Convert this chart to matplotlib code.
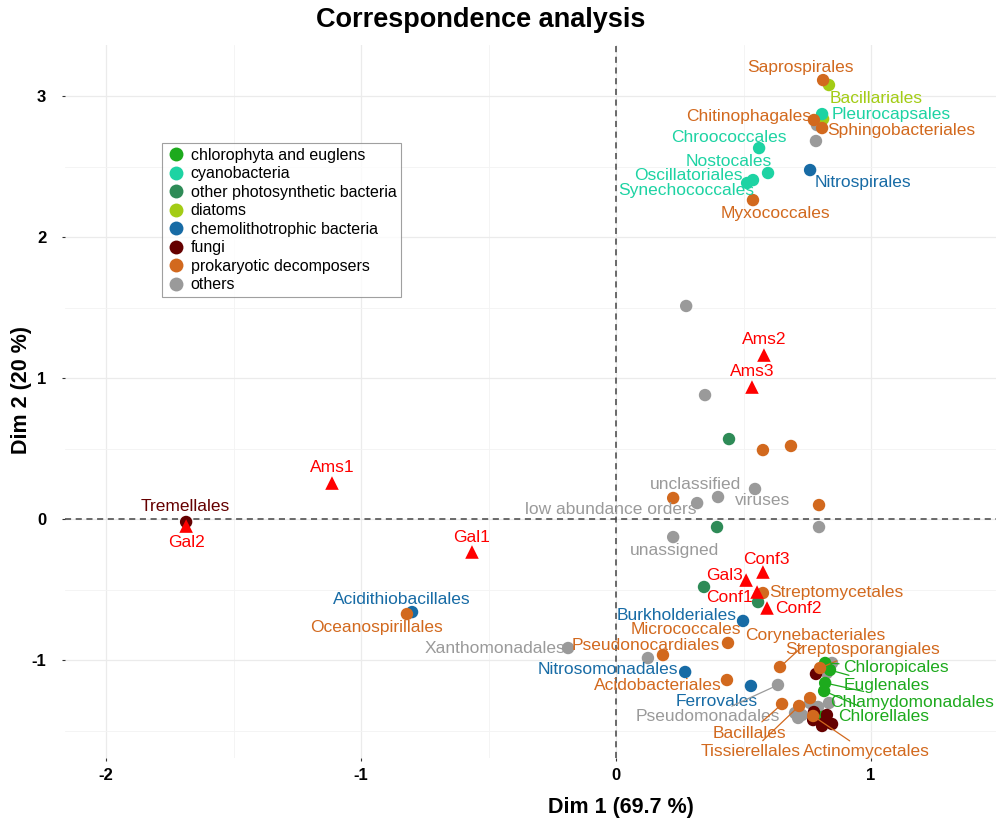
import matplotlib
matplotlib.use("Agg")
import matplotlib.pyplot as plt
from matplotlib.lines import Line2D

plt.rcParams["font.family"] = ["Liberation Sans", "DejaVu Sans"]
plt.rcParams["axes.unicode_minus"] = False

# Samples (rows) - red triangles
row_names = ["Ams1", "Ams2", "Ams3", "Gal1", "Gal2", "Gal3", "Conf1", "Conf2", "Conf3"]
row_x = [-1.114, 0.580, 0.533, -0.565, -1.686, 0.510, 0.553, 0.592, 0.576]
row_y = [0.255, 1.163, 0.936, -0.234, -0.050, -0.433, -0.518, -0.631, -0.376]

# Orders (columns), labelled ones first, then unlabelled
col_names = [
    "Saprospirales", "Bacillariales", "Pleurocapsales", "Chitinophagales",
    "Sphingobacteriales", "Chroococcales", "Nostocales", "Oscillatoriales",
    "Synechococcales", "Nitrospirales", "Myxococcales", "unclassified",
    "viruses", "low abundance orders", "unassigned", "Streptomycetales",
    "Burkholderiales", "Micrococcales", "Corynebacteriales", "Pseudonocardiales",
    "Streptosporangiales", "Chloropicales", "Nitrosomonadales", "Euglenales",
    "Acidobacteriales", "Ferrovales", "Chlamydomonadales", "Pseudomonadales",
    "Chlorellales", "Bacillales", "Tissierellales", "Actinomycetales",
    "Xanthomonadales", "Acidithiobacillales", "Oceanospirillales", "Tremellales",
    "", "", "", "", "", "", "", "", "", "", "", "", "", "", "", "", "", "",
    "", "", "", "", "", "", "", "", "", "", "",
]
col_x = [
    0.812, 0.835, 0.808, 0.776, 0.808, 0.561, 0.596, 0.537, 0.514, 0.761, 0.537,
    0.400, 0.545, 0.318, 0.224, 0.576, 0.498, 0.439, 0.643, 0.184, 0.800, 0.820,
    0.271, 0.839, 0.435, 0.529, 0.820, 0.635, 0.816, 0.651, 0.718, 0.773, -0.188,
    -0.800, -0.820, -1.686,
    0.812, 0.788, 0.784, 0.275, 0.349, 0.443, 0.576, 0.686, 0.224, 0.796, 0.396,
    0.796, 0.345, 0.557, 0.125, 0.847, 0.827, 0.784, 0.761, 0.761, 0.835, 0.792,
    0.702, 0.729, 0.714, 0.827, 0.820, 0.847, 0.808, 0.776, 0.773, 0.808,
]
col_y = [
    3.113, 3.078, 2.872, 2.830, 2.773, 2.631, 2.454, 2.404, 2.383, 2.475, 2.262,
    0.156, 0.213, 0.113, -0.128, -0.525, -0.723, -0.879, -1.050, -0.965, -1.057,
    -1.021, -1.085, -1.071, -1.142, -1.184, -1.163, -1.177, -1.220, -1.312,
    -1.326, -1.397, -0.915, -0.660, -0.674, -0.021,
    2.837, 2.794, 2.681, 1.511, 0.879, 0.567, 0.489, 0.518, 0.149, 0.099, -0.057,
    -0.057, -0.482, -0.589, -0.986, -1.021, -1.092, -1.099, -1.270, -1.305,
    -1.305, -1.333, -1.376, -1.390, -1.411, -1.390, -1.440, -1.454, -1.468,
    -1.369, -1.426, -1.404,
]
col_group = [
    "prok", "diat", "cyan", "prok", "prok", "cyan", "cyan", "cyan", "cyan",
    "chem", "prok", "oth", "oth", "oth", "oth", "prok", "chem", "prok", "prok",
    "prok", "prok", "chlo", "chem", "chlo", "prok", "chem", "chlo", "oth",
    "chlo", "prok", "prok", "prok", "oth", "chem", "prok", "fung",
    "diat", "oth", "oth", "oth", "oth", "phot", "prok", "prok", "prok", "prok",
    "phot", "oth", "phot", "phot", "oth", "oth", "oth", "fung", "prok", "oth",
    "oth", "oth", "oth", "oth", "oth", "fung", "fung", "fung", "fung", "fung",
    "fung", "chlo",
]

groups = ["chlo", "cyan", "phot", "diat", "chem", "fung", "prok", "oth"]
group_labels = ["chlorophyta and euglens", "cyanobacteria",
                "other photosynthetic bacteria", "diatoms",
                "chemolithotrophic bacteria", "fungi",
                "prokaryotic decomposers", "others"]
colors = {"chlo": "#1DAA1D", "cyan": "#1DD3A3", "phot": "#2E8B57",
          "diat": "#A3CC15", "chem": "#176BA5", "fung": "#650000",
          "prok": "#D2691E", "oth": "#9A9A9A"}
draw_order = ["oth", "diat", "chlo", "fung", "chem", "phot", "cyan", "prok"]

# label placement (text centre, data units) and whether a leader line is drawn
label_pos = {
    "Ams1": (-1.114, 0.362, False), "Ams2": (0.580, 1.270, False),
    "Ams3": (0.533, 1.043, False), "Gal1": (-0.565, -0.128, False),
    "Gal2": (-1.686, -0.170, False), "Gal3": (0.424, -0.404, False),
    "Conf1": (0.446, -0.560, False), "Conf2": (0.714, -0.638, False),
    "Conf3": (0.588, -0.284, False),
    "Saprospirales": (0.725, 3.199, False), "Bacillariales": (1.020, 2.986, False),
    "Pleurocapsales": (1.078, 2.872, False), "Chitinophagales": (0.518, 2.858, False),
    "Sphingobacteriales": (1.118, 2.759, False), "Chroococcales": (0.443, 2.709, False),
    "Nostocales": (0.443, 2.539, False), "Oscillatoriales": (0.282, 2.433, False),
    "Synechococcales": (0.275, 2.333, False), "Nitrospirales": (0.969, 2.390, False),
    "Myxococcales": (0.624, 2.170, False), "unclassified": (0.310, 0.248, False),
    "viruses": (0.576, 0.128, False), "low abundance orders": (-0.020, 0.064, False),
    "unassigned": (0.231, -0.220, False), "Streptomycetales": (0.863, -0.518, False),
    "Burkholderiales": (0.239, -0.683, False), "Micrococcales": (0.272, -0.783, False),
    "Corynebacteriales": (0.780, -0.823, True), "Pseudonocardiales": (0.118, -0.900, False),
    "Streptosporangiales": (0.965, -0.929, True), "Chloropicales": (1.098, -1.050, True),
    "Nitrosomonadales": (-0.031, -1.064, False), "Euglenales": (1.063, -1.184, True),
    "Acidobacteriales": (0.165, -1.184, False), "Ferrovales": (0.396, -1.291, False),
    "Chlamydomonadales": (1.160, -1.298, True), "Pseudomonadales": (0.361, -1.404, True),
    "Chlorellales": (1.051, -1.404, True), "Bacillales": (0.522, -1.518, True),
    "Tissierellales": (0.529, -1.652, True), "Actinomycetales": (0.980, -1.652, True),
    "Xanthomonadales": (-0.475, -0.915, False), "Acidithiobacillales": (-0.839, -0.574, False),
    "Oceanospirillales": (-0.941, -0.766, False), "Tremellales": (-1.690, 0.092, False),
}

fig = plt.figure(figsize=(9.96, 8.26), dpi=100)
ax = fig.add_axes([65 / 996, 1 - 758 / 826, 931 / 996, 713 / 826])

ax.set_xlim(-2.161, 1.49)
ax.set_ylim(-1.695, 3.362)
for s in ax.spines.values():
    s.set_visible(False)
ax.set_xticks([-2, -1, 0, 1])
ax.set_yticks([-1, 0, 1, 2, 3])
ax.set_xticks([-1.5, -0.5, 0.5], minor=True)
ax.set_yticks([-1.5, -0.5, 0.5, 1.5, 2.5], minor=True)
ax.grid(which="major", color="#EBEBEB", lw=0.9)
ax.grid(which="minor", color="#F3F3F3", lw=0.6)
ax.tick_params(which="major", length=2.5, width=0.8, color="#333333",
               labelsize=12)
ax.tick_params(axis="x", pad=5)
ax.tick_params(axis="y", pad=11)
ax.tick_params(which="minor", length=0)
for lab in ax.get_xticklabels() + ax.get_yticklabels():
    lab.set_fontweight("bold")
ax.set_axisbelow(True)

ax.axhline(0, color="#444444", ls=(0, (4, 3)), lw=1.1, zorder=1)
ax.axvline(0, color="#444444", ls=(0, (4, 3)), lw=1.1, zorder=1)

# columns
for g in draw_order:
    xs = [x for x, gg in zip(col_x, col_group) if gg == g]
    ys = [y for y, gg in zip(col_y, col_group) if gg == g]
    ax.scatter(xs, ys, s=80, color=colors[g], edgecolors="none", zorder=3)

# rows
ax.scatter(row_x, row_y, s=95, marker="^", color="#FF0000", edgecolors="none",
           zorder=4)

txt_size = 12.5

def put_label(name, px, py, color):
    lx, ly, line = label_pos[name]
    if line:
        ax.annotate(name, xy=(px, py), xytext=(lx, ly), ha="center", va="center",
                    color=color, fontsize=txt_size, zorder=5,
                    arrowprops=dict(arrowstyle="-", color=color, lw=0.9,
                                    shrinkA=1, shrinkB=4))
    else:
        ax.text(lx, ly, name, ha="center", va="center", color=color,
                fontsize=txt_size, zorder=5)

for n, x, y in zip(row_names, row_x, row_y):
    put_label(n, x, y, "#FF0000")
for n, x, y, g in zip(col_names, col_x, col_y, col_group):
    if n:
        put_label(n, x, y, colors[g])

handles = [Line2D([], [], marker="o", ls="", markersize=10, color=colors[g],
                  markeredgewidth=0) for g in groups]
leg = ax.legend(handles, group_labels, loc="upper left",
                bbox_to_anchor=((162 - 65) / 931, (758 - 143) / 713),
                fontsize=11.5, frameon=True, fancybox=False, handletextpad=0.3,
                labelspacing=0.22, borderpad=0.3, handlelength=1.2,
                borderaxespad=0)
leg.get_frame().set_edgecolor("#888888")
leg.get_frame().set_linewidth(0.8)

fig.text(481 / 996, 1 - 20 / 826, "Correspondence analysis", ha="center",
         va="center", fontsize=19.5, fontweight="bold")
fig.text(621 / 996, 1 - 808 / 826, "Dim 1 (69.7 %)", ha="center", va="center",
         fontsize=15.5, fontweight="bold")
fig.text(22 / 996, 1 - 390 / 826, "Dim 2 (20 %)", ha="center", va="center",
         fontsize=15.5, fontweight="bold", rotation=90)

fig.savefig("out.png", dpi=100)
